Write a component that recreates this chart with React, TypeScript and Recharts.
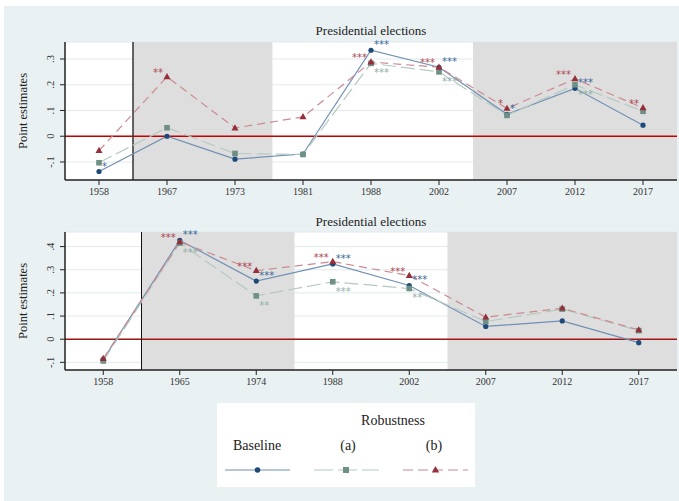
import {
  LineChart,
  Line,
  XAxis,
  YAxis,
  CartesianGrid,
  ReferenceArea,
  ReferenceLine,
  LabelList,
} from "recharts";

// upper panel
const topYears = ["1958", "1967", "1973", "1981", "1988", "2002", "2007", "2012", "2017"];
const topBaseline = [-0.137, 0.0, -0.089, -0.069, 0.334, 0.268, 0.085, 0.186, 0.043];
const topRobustA = [-0.103, 0.033, -0.067, -0.071, 0.283, 0.25, 0.081, 0.2, 0.097];
const topRobustB = [-0.056, 0.231, 0.032, 0.075, 0.288, 0.268, 0.108, 0.223, 0.11];
const topStarsBaseline = ["*", "", "", "", "***", "***", "*", "***", ""];
const topStarsA = ["", "", "", "", "***", "***", "", "***", ""];
const topStarsB = ["", "**", "", "", "***", "***", "*", "***", "**"];
const topTicks = [-0.1, 0, 0.1, 0.2, 0.3];
const topShades = [[1, 3.05], [6, 9]];

// lower panel
const bottomYears = ["1958", "1965", "1974", "1988", "2002", "2007", "2012", "2017"];
const bottomBaseline = [-0.087, 0.427, 0.251, 0.325, 0.232, 0.055, 0.079, -0.015];
const bottomRobustA = [-0.094, 0.415, 0.187, 0.248, 0.219, 0.076, 0.13, 0.037];
const bottomRobustB = [-0.084, 0.42, 0.296, 0.335, 0.275, 0.095, 0.134, 0.04];
const bottomStarsBaseline = ["", "***", "***", "***", "***", "", "", ""];
const bottomStarsA = ["", "***", "**", "***", "**", "", "", ""];
const bottomStarsB = ["", "***", "***", "***", "***", "", "", ""];
const bottomTicks = [-0.1, 0, 0.1, 0.2, 0.3, 0.4];
const bottomShades = [[1, 3], [5, 8]];

const FONT = '"Liberation Serif", "DejaVu Serif", serif';
const STAR_FONT = '"DejaVu Sans", sans-serif';
const BG = "#eaf1f3";
const GRID = "#e2eaee";
const SHADE = "#dedede";
const NAVY = "#1d4a78";
const BASE_LINE = "#7190b4";
const A_MARK = "#6e8f85";
const A_LINE = "#b5c9c1";
const B_MARK = "#962f3a";
const B_LINE = "#cc8a90";
const STAR_BASE = "#3a689a";
const STAR_A = "#8fb0a5";
const STAR_B = "#b04652";

const fmt = (v: number) => {
  if (Math.abs(v) < 1e-9) return "0";
  return (v < 0 ? "-" : "") + Math.abs(v).toFixed(1).replace(/^0/, "");
};

const RotTick = (props: any) => {
  const { x, y, payload } = props;
  return (
    <text
      x={0}
      y={0}
      transform={`translate(${x - 8},${y}) rotate(-90)`}
      textAnchor="middle"
      dominantBaseline="central"
      fontSize={10.5}
      fontFamily={FONT}
      fill="#333"
    >
      {fmt(payload.value)}
    </text>
  );
};

const circleDot = (p: any) =>
  p.cx == null ? <g key={p.key} /> : <circle key={p.key} cx={p.cx} cy={p.cy} r={2.6} fill={NAVY} />;
const squareDot = (p: any) =>
  p.cx == null ? <g key={p.key} /> : <rect key={p.key} x={p.cx - 2.8} y={p.cy - 2.8} width={5.6} height={5.6} fill={A_MARK} />;
const triDot = (p: any) =>
  p.cx == null ? (
    <g key={p.key} />
  ) : (
    <path key={p.key} d={`M${p.cx},${p.cy - 3.8}L${p.cx + 3.5},${p.cy + 2.4}L${p.cx - 3.5},${p.cy + 2.4}Z`} fill={B_MARK} />
  );

const stars = (color: string, anchor: string, dx: number, dy: number) => (p: any) => {
  if (!p.value) return null;
  const x = p.viewBox?.x ?? p.x;
  const y = p.viewBox?.y ?? p.y;
  return (
    <text x={x + dx} y={y + dy + 6} textAnchor={anchor} fontSize={10} fontFamily={STAR_FONT} fill={color}>
      {p.value}
    </text>
  );
};

function Panel(props: any) {
  const { top, height, marginTop, years, base, a, b, sBase, sA, sB, yDomain, yTicks, shades, zeroColor, dividerColor, dividerWidth } = props;
  // pos = slot index of each election, used by the hidden numeric axis for the shaded periods
  const data = years.map((year: string, i: number) => ({
    year,
    pos: i + 0.5,
    base: base[i],
    a: a[i],
    b: b[i],
    sBase: sBase[i],
    sA: sA[i],
    sB: sB[i],
  }));
  const pad = (679 - 65 - 2) / years.length / 2;
  return (
    <div style={{ position: "absolute", left: 0, top }}>
      <LineChart width={679} height={height} data={data} margin={{ top: marginTop, right: 2, bottom: 0, left: 0 }}>
        <CartesianGrid vertical={false} fill="#ffffff" stroke={GRID} />
        <XAxis
          dataKey="year"
          padding={{ left: pad, right: pad }}
          height={20}
          interval={0}
          tickSize={5}
          tickMargin={3}
          tick={{ fontSize: 10, fontFamily: FONT, fill: "#333" }}
          axisLine={{ stroke: "#222", strokeWidth: 1.5 }}
          tickLine={{ stroke: "#222" }}
        />
        <XAxis xAxisId="bg" dataKey="pos" type="number" domain={[0, years.length]} allowDataOverflow hide />
        <YAxis
          width={65}
          type="number"
          domain={yDomain}
          ticks={yTicks}
          interval={0}
          tickSize={5}
          tick={<RotTick />}
          axisLine={{ stroke: "#222", strokeWidth: 1.5 }}
          tickLine={{ stroke: "#222" }}
          label={{
            value: "Point estimates",
            angle: -90,
            position: "insideLeft",
            offset: 23,
            style: { textAnchor: "middle", fontSize: 12.5, fontFamily: FONT, fill: "#222" },
          }}
        />
        {shades.map((s: number[], i: number) => (
          <ReferenceArea key={i} xAxisId="bg" x1={s[0]} x2={s[1]} fill={SHADE} fillOpacity={1} stroke="none" />
        ))}
        <ReferenceLine y={0} stroke={zeroColor} strokeWidth={1.5} />
        <ReferenceLine xAxisId="bg" x={1} stroke={dividerColor} strokeWidth={dividerWidth} />
        <Line dataKey="base" stroke={BASE_LINE} strokeWidth={1.2} dot={circleDot} activeDot={false} isAnimationActive={false}>
          <LabelList dataKey="sBase" content={stars(STAR_BASE, "start", 3, -8)} />
        </Line>
        <Line dataKey="a" stroke={A_LINE} strokeWidth={1.2} strokeDasharray="14 5" dot={squareDot} activeDot={false} isAnimationActive={false}>
          <LabelList dataKey="sA" content={stars(STAR_A, "start", 3, 7)} />
        </Line>
        <Line dataKey="b" stroke={B_LINE} strokeWidth={1.2} strokeDasharray="8 5" dot={triDot} activeDot={false} isAnimationActive={false}>
          <LabelList dataKey="sB" content={stars(STAR_B, "end", -4, -7)} />
        </Line>
      </LineChart>
    </div>
  );
}

export default function App() {
  return (
    <div style={{ position: "absolute", left: 0, top: 0, width: 679, height: 501, background: "#fff", fontFamily: FONT }}>
      <div style={{ position: "absolute", left: 4, top: 6, width: 675, height: 495, background: BG }} />
      <Panel
        top={0}
        height={200}
        marginTop={42}
        years={topYears}
        base={topBaseline}
        a={topRobustA}
        b={topRobustB}
        sBase={topStarsBaseline}
        sA={topStarsA}
        sB={topStarsB}
        yDomain={[-0.17, 0.366]}
        yTicks={topTicks}
        shades={topShades}
        zeroColor="#c40000"
        dividerColor="#333"
        dividerWidth={1.5}
      />
      <Panel
        top={200}
        height={190}
        marginTop={32}
        years={bottomYears}
        base={bottomBaseline}
        a={bottomRobustA}
        b={bottomRobustB}
        sBase={bottomStarsBaseline}
        sA={bottomStarsA}
        sB={bottomStarsB}
        yDomain={[-0.133, 0.463]}
        yTicks={bottomTicks}
        shades={bottomShades}
        zeroColor="#a01515"
        dividerColor="#111"
        dividerWidth={1}
      />
      <svg width={679} height={501} style={{ position: "absolute", left: 0, top: 0, pointerEvents: "none" }}>
        <text x={371} y={35} textAnchor="middle" fontSize={13} fontFamily={FONT} fill="#222">
          Presidential elections
        </text>
        <text x={371} y={226} textAnchor="middle" fontSize={13} fontFamily={FONT} fill="#222">
          Presidential elections
        </text>
        <rect x={217} y={403} width={258} height={84} fill="#fff" />
        <text x={393} y={425} textAnchor="middle" fontSize={14} fontFamily={FONT} fill="#222">
          Robustness
        </text>
        <text x={257} y={450} textAnchor="middle" fontSize={14} fontFamily={FONT} fill="#222">
          Baseline
        </text>
        <text x={348} y={450} textAnchor="middle" fontSize={14} fontFamily={FONT} fill="#222">
          (a)
        </text>
        <text x={434} y={450} textAnchor="middle" fontSize={14} fontFamily={FONT} fill="#222">
          (b)
        </text>
        <line x1={225} x2={290} y1={470} y2={470} stroke={BASE_LINE} strokeWidth={1.2} />
        <circle cx={257.5} cy={470} r={2.8} fill={NAVY} />
        <line x1={314} x2={379} y1={470} y2={470} stroke={A_LINE} strokeWidth={1.2} strokeDasharray="19 5" />
        <rect x={343} y={467} width={6} height={6} fill={A_MARK} />
        <line x1={403} x2={468} y1={470} y2={470} stroke={B_LINE} strokeWidth={1.2} strokeDasharray="10 5" />
        <path d="M435.5,466L439.2,472.4L431.8,472.4Z" fill={B_MARK} />
      </svg>
    </div>
  );
}
